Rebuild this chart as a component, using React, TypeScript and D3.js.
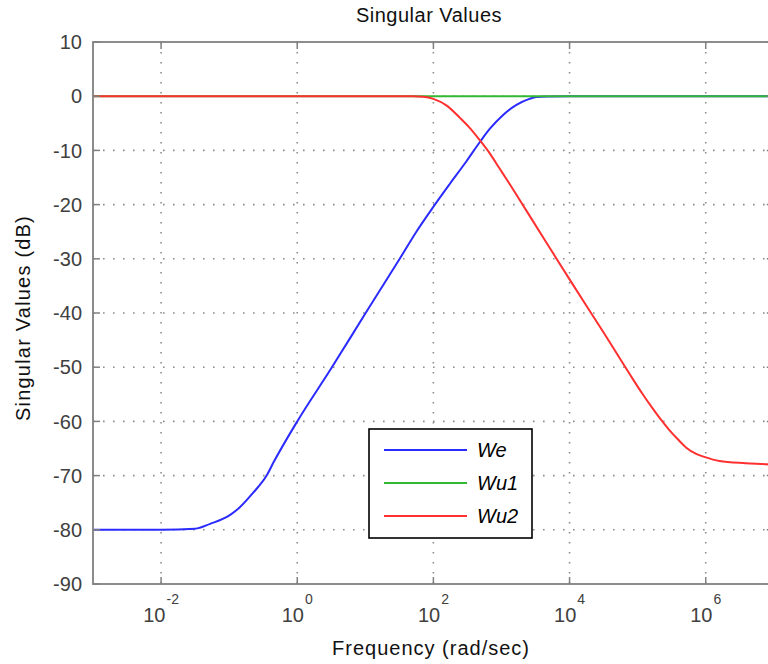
import React from "react";
import * as d3 from "d3";

const title = "Singular Values";
const xLabel = "Frequency (rad/sec)";
const yLabel = "Singular Values (dB)";
const xTickExponents = [-2, 0, 2, 4, 6];
const yTicks = [10, 0, -10, -20, -30, -40, -50, -60, -70, -80, -90];
const seriesNames = ["We", "Wu1", "Wu2"];
const seriesColors = ["#2b2bff", "#33b833", "#ff3030"];

// log10 of frequency (rad/sec) and singular value (dB)
const weLogFreq = [-3, -2, -1.5, -1.28, -0.99, -0.84, -0.65, -0.45, -0.35, 0, 0.5, 1.0, 1.51, 1.75, 2.0, 2.24, 2.48, 2.68, 2.83, 3.02, 3.22, 3.41, 3.51, 3.7, 4, 5, 6, 7];
const weDb = [-80, -80, -79.8, -78.9, -77.3, -75.8, -73.2, -70.0, -67.6, -60, -50.2, -40.1, -29.9, -25, -20.4, -16.2, -12.1, -8.5, -6, -3.5, -1.6, -0.5, -0.15, -0.05, 0, 0, 0, 0];
const wu1LogFreq = [-3, 7];
const wu1Db = [0, 0];
const wu2LogFreq = [-3, 1.7, 1.85, 2.0, 2.19, 2.39, 2.53, 2.68, 2.83, 2.97, 3.12, 3.27, 3.46, 3.71, 4.0, 4.5, 4.93, 5.07, 5.22, 5.32, 5.46, 5.59, 5.71, 5.86, 5.99, 6.2, 6.59, 6.88, 7];
const wu2Db = [0, 0, -0.1, -0.5, -1.7, -4.0, -5.8, -8.1, -10.6, -13.3, -16.2, -19.2, -23.0, -28.0, -33.8, -43.6, -52.2, -54.9, -57.6, -59.3, -61.5, -63.3, -64.8, -66.0, -66.6, -67.3, -67.7, -67.9, -68];

const W = 768;
const H = 664;
const L = 93, R = 773.8, T = 42, B = 584;
const FONT = "'Liberation Sans', Arial, sans-serif";

export default function App() {
  const x = d3.scaleLog().domain([1e-3, 1e7]).range([L, R]);
  const y = d3.scaleLinear().domain([-90, 10]).range([B, T]);
  const line = d3
    .line<[number, number]>()
    .x((d) => x(Math.pow(10, d[0])))
    .y((d) => y(d[1]))
    .curve(d3.curveMonotoneX);
  const series = [
    weLogFreq.map((f, i) => [f, weDb[i]] as [number, number]),
    wu1LogFreq.map((f, i) => [f, wu1Db[i]] as [number, number]),
    wu2LogFreq.map((f, i) => [f, wu2Db[i]] as [number, number]),
  ];
  const axisColor = "#808080";
  const gridColor = "#8c8c8c";
  const tickLen = 7;
  const legend = { x: 369, y: 429, w: 163, h: 109 };

  return (
    <svg
      width={W}
      height={H}
      style={{ position: "absolute", left: 0, top: 0, background: "#fff" }}
      fontFamily={FONT}
    >
      <rect x={0} y={0} width={W} height={H} fill="#fff" />
      {/* grid */}
      {xTickExponents.map((e) => (
        <line
          key={"gx" + e}
          x1={x(Math.pow(10, e))}
          x2={x(Math.pow(10, e))}
          y1={T}
          y2={B}
          stroke={gridColor}
          strokeWidth={1.6}
          strokeDasharray="1.6 8.4"
        />
      ))}
      {yTicks
        .filter((v) => v < 10 && v > -90)
        .map((v) => (
          <line
            key={"gy" + v}
            x1={L}
            x2={R}
            y1={y(v)}
            y2={y(v)}
            stroke={gridColor}
            strokeWidth={1.6}
            strokeDasharray="1.6 8.4"
          />
        ))}
      {/* series */}
      {series.map((s, i) => (
        <path
          key={"s" + i}
          d={line(s) || ""}
          fill="none"
          stroke={seriesColors[i]}
          strokeWidth={2}
        />
      ))}
      {/* axes box */}
      <rect x={L} y={T} width={R - L} height={B - T} fill="none" stroke={axisColor} strokeWidth={1.8} />
      {xTickExponents.map((e) => (
        <g key={"tx" + e}>
          <line x1={x(Math.pow(10, e))} x2={x(Math.pow(10, e))} y1={B} y2={B - tickLen} stroke={axisColor} strokeWidth={1.5} />
          <line x1={x(Math.pow(10, e))} x2={x(Math.pow(10, e))} y1={T} y2={T + tickLen} stroke={axisColor} strokeWidth={1.5} />
          <text x={x(Math.pow(10, e))} y={622} textAnchor="middle" fontSize={20} fill="#404040">
            10
            <tspan dy={-18} fontSize={14} dx={1}>
              {String(e)}
            </tspan>
          </text>
        </g>
      ))}
      {yTicks.map((v) => (
        <g key={"ty" + v}>
          <line x1={L} x2={L + tickLen} y1={y(v)} y2={y(v)} stroke={axisColor} strokeWidth={1.5} />
          <line x1={R} x2={R - tickLen} y1={y(v)} y2={y(v)} stroke={axisColor} strokeWidth={1.5} />
          <text x={82} y={y(v)} dy="0.36em" textAnchor="end" fontSize={20} fill="#404040">
            {String(v)}
          </text>
        </g>
      ))}
      {/* labels */}
      <text x={429} y={22} textAnchor="middle" fontSize={20} letterSpacing={0.5} fill="#111">
        {title}
      </text>
      <text x={431} y={655} textAnchor="middle" fontSize={20} letterSpacing={1} fill="#111">
        {xLabel}
      </text>
      <text
        transform={`translate(30, 318) rotate(-90)`}
        textAnchor="middle"
        fontSize={20}
        letterSpacing={1.2}
        fill="#111"
      >
        {yLabel}
      </text>
      {/* legend */}
      <rect x={legend.x} y={legend.y} width={legend.w} height={legend.h} fill="#fff" stroke="#000" strokeWidth={1.6} />
      {seriesNames.map((n, i) => {
        const ly = 450 + i * 33;
        return (
          <g key={"lg" + n}>
            <line x1={384} x2={467} y1={ly} y2={ly} stroke={seriesColors[i]} strokeWidth={2} />
            <text x={477} y={ly} dy="0.36em" fontSize={20} fontStyle="italic" fill="#000">
              {n}
            </text>
          </g>
        );
      })}
    </svg>
  );
}
